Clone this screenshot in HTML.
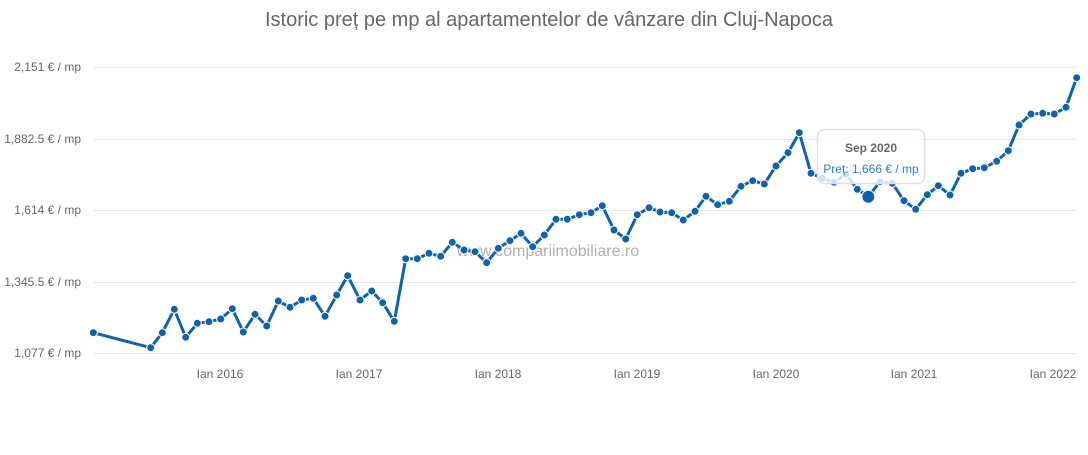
<!DOCTYPE html>
<html><head><meta charset="utf-8"><style>
html,body{margin:0;padding:0;background:#fff;}
svg{display:block;font-family:"Liberation Sans",sans-serif;}
</style></head><body>
<svg width="1088" height="455" viewBox="0 0 1088 455" xmlns="http://www.w3.org/2000/svg">
<text x="549" y="26" text-anchor="middle" font-size="20" fill="#666">Istoric preț pe mp al apartamentelor de vânzare din Cluj-Napoca</text>
<g stroke="#e6e6e6" stroke-width="1">
<line x1="94" x2="1076" y1="67.5" y2="67.5"/>
<line x1="94" x2="1076" y1="139.5" y2="139.5"/>
<line x1="94" x2="1076" y1="210.5" y2="210.5"/>
<line x1="94" x2="1076" y1="282.5" y2="282.5"/>
<line x1="94" x2="1076" y1="353.5" y2="353.5"/>
</g>
<g font-size="12" fill="#666" text-anchor="end">
<text x="81" y="71">2,151 € / mp</text>
<text x="81" y="143">1,882.5 € / mp</text>
<text x="81" y="214">1,614 € / mp</text>
<text x="81" y="286">1,345.5 € / mp</text>
<text x="81" y="357">1,077 € / mp</text>
</g>
<g font-size="12" fill="#666" text-anchor="middle">
<text x="220" y="378">Ian 2016</text>
<text x="359" y="378">Ian 2017</text>
<text x="498" y="378">Ian 2018</text>
<text x="637" y="378">Ian 2019</text>
<text x="776" y="378">Ian 2020</text>
<text x="914" y="378">Ian 2021</text>
<text x="1053" y="378">Ian 2022</text>
</g>
<text x="548" y="256" text-anchor="middle" font-size="16" fill="#b0b0b0">www.compariimobiliare.ro</text>
<polyline fill="none" stroke="#1063ab" stroke-width="3" stroke-linejoin="round" points="93.3,332.7 150.7,347.7 162.3,332.7 174.3,309.3 185.7,337.3 197.3,323.3 209,321.7 220.7,319 232.3,308.7 243.3,332 255,314.3 266.7,326 278.3,301 290,307.3 301.7,300 313.3,298.3 325,316.3 336.7,295 347.7,275.7 360,300 371.7,291 382.7,302.7 394.3,321.3 405.7,258.7 417.3,258.7 429,253.3 440.7,256.3 452.3,242.3 464,250 475,251.7 486.7,262.7 498.3,248.3 510,240.7 521,233.3 532.7,246.7 544.3,235 556,219.3 567.3,219.3 579.3,214.7 591,212.7 602.3,205.7 614,230 625.7,239 637.3,214.7 649,207.7 660,212 671.7,212.7 683.3,220 695,211.3 706,196.3 717.7,204.7 729.3,201.3 741,186.3 752.7,180.7 764.3,184 776,166 788,152.7 799.3,132.7 811,173.3 822.3,178.3 834,182.3 845.7,174 857.3,189.3 868.3,196.7 880,181.7 892.3,183.3 904,200.7 915.7,209.3 927.3,194.7 938.3,185.7 950,195 961,173.3 972.7,168.7 984.3,167.7 996.7,161.3 1008.3,150.7 1019,125 1031,114 1042.7,113.3 1054.3,114 1066,107.3 1076.7,77.7"/>
<g fill="#1063ab" stroke="#fff" stroke-width="1">
<circle cx="93.3" cy="332.7" r="4"/><circle cx="150.7" cy="347.7" r="4"/><circle cx="162.3" cy="332.7" r="4"/><circle cx="174.3" cy="309.3" r="4"/><circle cx="185.7" cy="337.3" r="4"/><circle cx="197.3" cy="323.3" r="4"/><circle cx="209" cy="321.7" r="4"/><circle cx="220.7" cy="319" r="4"/><circle cx="232.3" cy="308.7" r="4"/><circle cx="243.3" cy="332" r="4"/><circle cx="255" cy="314.3" r="4"/><circle cx="266.7" cy="326" r="4"/><circle cx="278.3" cy="301" r="4"/><circle cx="290" cy="307.3" r="4"/><circle cx="301.7" cy="300" r="4"/><circle cx="313.3" cy="298.3" r="4"/><circle cx="325" cy="316.3" r="4"/><circle cx="336.7" cy="295" r="4"/><circle cx="347.7" cy="275.7" r="4"/><circle cx="360" cy="300" r="4"/><circle cx="371.7" cy="291" r="4"/><circle cx="382.7" cy="302.7" r="4"/><circle cx="394.3" cy="321.3" r="4"/><circle cx="405.7" cy="258.7" r="4"/><circle cx="417.3" cy="258.7" r="4"/><circle cx="429" cy="253.3" r="4"/><circle cx="440.7" cy="256.3" r="4"/><circle cx="452.3" cy="242.3" r="4"/><circle cx="464" cy="250" r="4"/><circle cx="475" cy="251.7" r="4"/><circle cx="486.7" cy="262.7" r="4"/><circle cx="498.3" cy="248.3" r="4"/><circle cx="510" cy="240.7" r="4"/><circle cx="521" cy="233.3" r="4"/><circle cx="532.7" cy="246.7" r="4"/><circle cx="544.3" cy="235" r="4"/><circle cx="556" cy="219.3" r="4"/><circle cx="567.3" cy="219.3" r="4"/><circle cx="579.3" cy="214.7" r="4"/><circle cx="591" cy="212.7" r="4"/><circle cx="602.3" cy="205.7" r="4"/><circle cx="614" cy="230" r="4"/><circle cx="625.7" cy="239" r="4"/><circle cx="637.3" cy="214.7" r="4"/><circle cx="649" cy="207.7" r="4"/><circle cx="660" cy="212" r="4"/><circle cx="671.7" cy="212.7" r="4"/><circle cx="683.3" cy="220" r="4"/><circle cx="695" cy="211.3" r="4"/><circle cx="706" cy="196.3" r="4"/><circle cx="717.7" cy="204.7" r="4"/><circle cx="729.3" cy="201.3" r="4"/><circle cx="741" cy="186.3" r="4"/><circle cx="752.7" cy="180.7" r="4"/><circle cx="764.3" cy="184" r="4"/><circle cx="776" cy="166" r="4"/><circle cx="788" cy="152.7" r="4"/><circle cx="799.3" cy="132.7" r="4"/><circle cx="811" cy="173.3" r="4"/><circle cx="822.3" cy="178.3" r="4"/><circle cx="834" cy="182.3" r="4"/><circle cx="845.7" cy="174" r="4"/><circle cx="857.3" cy="189.3" r="4"/><circle cx="880" cy="181.7" r="4"/><circle cx="892.3" cy="183.3" r="4"/><circle cx="904" cy="200.7" r="4"/><circle cx="915.7" cy="209.3" r="4"/><circle cx="927.3" cy="194.7" r="4"/><circle cx="938.3" cy="185.7" r="4"/><circle cx="950" cy="195" r="4"/><circle cx="961" cy="173.3" r="4"/><circle cx="972.7" cy="168.7" r="4"/><circle cx="984.3" cy="167.7" r="4"/><circle cx="996.7" cy="161.3" r="4"/><circle cx="1008.3" cy="150.7" r="4"/><circle cx="1019" cy="125" r="4"/><circle cx="1031" cy="114" r="4"/><circle cx="1042.7" cy="113.3" r="4"/><circle cx="1054.3" cy="114" r="4"/><circle cx="1066" cy="107.3" r="4"/><circle cx="1076.7" cy="77.7" r="4"/>
</g>
<rect x="817.5" y="129.5" width="107" height="54" rx="7" fill="#fff" fill-opacity="0.8" stroke="#e0e0e0" stroke-width="1.5"/>
<text x="871" y="152" text-anchor="middle" font-size="12" font-weight="bold" fill="#666">Sep 2020</text>
<text x="871" y="173" text-anchor="middle" font-size="12" fill="#2a7fd0">Preț: 1,666 € / mp</text>
<circle cx="868.3" cy="196.7" r="6.5" fill="#1063ab" stroke="#fff" stroke-width="1"/>
</svg>
</body></html>
